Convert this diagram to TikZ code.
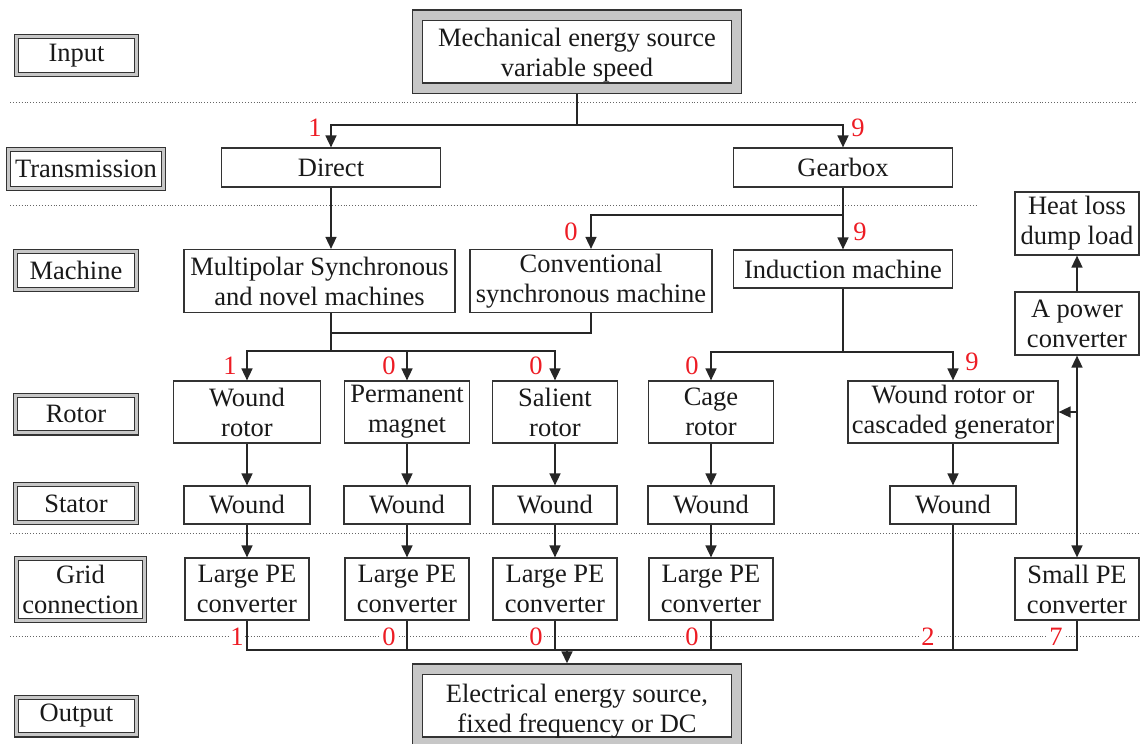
\documentclass[tikz,border=0pt]{standalone}
\usepackage{fontspec}
\setmainfont{Liberation Serif}
\usetikzlibrary{arrows.meta,positioning}
\definecolor{myRed}{RGB}{237,28,36}
\tikzset{
myBox/.style={
	rectangle,draw=black!80,fill=white,line width=1.2pt,
	inner sep=0pt,align=center,text=black!90,
	font=\fontsize{26.5}{30}\selectfont
}
, myFrame/.style={
	myBox, double=black!22, double distance=3pt, outer sep=2.7pt
}
, mySource/.style={
	myBox, double=black!22, double distance=9pt, outer sep=5.7pt
}
% counts
, myCount/.style={text=myRed, inner sep=1pt, font=\fontsize{26.5}{30}\selectfont}
, myCountBg/.style={myCount, fill=white}
% links
, myLink/.style={draw=black!85, line width=1.6pt}
, myArrow/.style={myLink, -{Triangle[length=12pt,width=11pt]}}
, myBoth/.style={myLink, {Triangle[length=12pt,width=11pt]}-{Triangle[length=12pt,width=11pt]}}
, myLevel/.style={draw=black!60, dotted, line width=0.9pt}
}

\begin{document}
\begin{tikzpicture}[x=1pt,y=-1pt]
	\useasboundingbox (0,0) rectangle (1141,744);
	% levels
	\draw[myLevel] (10,102) -- (1138,102);
	\draw[myLevel] (10,205) -- (978,205);
	\draw[myLevel] (10,533) -- (1141,533);
	\draw[myLevel] (10,636) -- (1141,636);
	% tags
	\node[myFrame, minimum width=119.6pt, minimum height=37.6pt] (TagInput) at (76.5,55.5) {Input};
	\node[myFrame, minimum width=154.6pt, minimum height=38.6pt] (TagTrans) at (86,169) {Transmission};
	\node[myFrame, minimum width=120.6pt, minimum height=37.6pt] (TagMachine) at (76,270.5) {Machine};
	\node[myFrame, minimum width=120.6pt, minimum height=37.6pt] (TagRotor) at (76,414) {Rotor};
	\node[myFrame, minimum width=120.6pt, minimum height=37.6pt] (TagStator) at (76,503.5) {Stator};
	\node[myFrame, minimum width=127.6pt, minimum height=61.6pt] (TagGrid) at (80.5,589.5) {Grid\\connection};
	\node[myFrame, minimum width=119.6pt, minimum height=37.6pt] (TagOutput) at (76.5,716) {Output};
	% source and sink
	\node[mySource, minimum width=319.5pt, minimum height=73pt] (Mech) at (577,51.5) {\rule{0pt}{26pt}Mechanical energy source\\variable speed};
	\node[mySource, minimum width=319.5pt, minimum height=73pt] (Elec) at (577,705.5) {\rule{0pt}{30pt}Electrical energy source,\\fixed frequency or DC};
	% transmission
	\node[myBox, minimum width=219pt, minimum height=39pt] (Direct) at (331,167.5) {Direct};
	\node[myBox, minimum width=219pt, minimum height=39pt] (Gearbox) at (843,167.5) {Gearbox};
	% machine
	\node[myBox, minimum width=271pt, minimum height=63pt] (Multi) at (319.5,281) {Multipolar Synchronous\\and novel machines};
	\node[myBox, minimum width=242pt, minimum height=63pt] (Conv) at (591,281) {Conventional\\synchronous machine};
	\node[myBox, minimum width=219pt, minimum height=38pt] (Induction) at (843,269) {Induction machine};
	\node[myBox, minimum width=124pt, minimum height=63pt] (Heat) at (1077,223.5) {Heat loss\\dump load};
	\node[myBox, minimum width=124pt, minimum height=63pt] (APow) at (1077,323.5) {A power\\converter};
	% rotor
	\node[myBox, minimum width=147pt, minimum height=62pt] (RotA) at (247,412) {Wound\\rotor};
	\node[myBox, minimum width=125pt, minimum height=62pt] (RotB) at (407,412) {Permanent\\magnet};
	\node[myBox, minimum width=125pt, minimum height=62pt] (RotC) at (555,412) {Salient\\rotor};
	\node[myBox, minimum width=125pt, minimum height=62pt] (RotD) at (711,412) {Cage\\rotor};
	\node[myBox, minimum width=210pt, minimum height=62pt] (RotE) at (953,412) {Wound rotor or\\cascaded generator};
	% stator
	\node[myBox, minimum width=126pt, minimum height=38pt] (StaA) at (247,505) {Wound};
	\node[myBox, minimum width=126pt, minimum height=38pt] (StaB) at (407,505) {Wound};
	\node[myBox, minimum width=124pt, minimum height=38pt] (StaC) at (555,505) {Wound};
	\node[myBox, minimum width=126pt, minimum height=38pt] (StaD) at (711,505) {Wound};
	\node[myBox, minimum width=126pt, minimum height=38pt] (StaE) at (953,505) {Wound};
	% grid connection
	\node[myBox, minimum width=124pt, minimum height=62pt] (PeA) at (247,589) {Large PE\\converter};
	\node[myBox, minimum width=124pt, minimum height=62pt] (PeB) at (407,589) {Large PE\\converter};
	\node[myBox, minimum width=124pt, minimum height=62pt] (PeC) at (555,589) {Large PE\\converter};
	\node[myBox, minimum width=124pt, minimum height=62pt] (PeD) at (711,589) {Large PE\\converter};
	\node[myBox, minimum width=124pt, minimum height=62pt] (PeSmall) at (1077,589) {Small PE\\converter};

	% counts
	\node[myCount] (CntDirect) at (315,128) {1};
	\node[myCount] (CntGear) at (858,128) {9};
	\node[myCount] (CntConv) at (571,232) {0};
	\node[myCount] (CntInd) at (860,232) {9};
	\node[myCount] (CntRotA) at (230,366) {1};
	\node[myCount] (CntRotB) at (389,366) {0};
	\node[myCount] (CntRotC) at (536,366) {0};
	\node[myCount] (CntRotD) at (692,366) {0};
	\node[myCount] (CntRotE) at (972,362) {9};
	\node[myCountBg] (CntPeA) at (237,637) {1};
	\node[myCountBg] (CntPeB) at (389,637) {0};
	\node[myCountBg] (CntPeC) at (536,637) {0};
	\node[myCountBg] (CntPeD) at (692,637) {0};
	\node[myCountBg] (CntStaE) at (928,637) {2};
	\node[myCountBg] (CntPeSmall) at (1056,637) {7};

	% links
	\coordinate (InSplit) at (577,125);
	\draw[myLink] (Mech.south) -- (InSplit);
	\draw[myArrow] (InSplit) -| (Direct.north);
	\draw[myArrow] (InSplit) -| (Gearbox.north);

	\draw[myArrow] (Direct.south) -- (Direct.south |- Multi.north);
	\coordinate (GbSplit) at (843,215);
	\draw[myArrow] (Gearbox.south) -- (Induction.north);
	\draw[myArrow] (GbSplit) -| (Conv.north);

	\coordinate (MuJoin) at (331,333);
	\coordinate (MuSplit) at (331,351);
	\draw[myLink] (Multi.south -| MuSplit) -- (MuSplit);
	\draw[myLink] (Conv.south) |- (MuJoin);
	\draw[myArrow] (MuSplit) -| (RotA.north);
	\draw[myArrow] (MuSplit) -| (RotB.north);
	\draw[myArrow] (MuSplit) -| (RotC.north);

	\coordinate (ImSplit) at (843,352);
	\draw[myLink] (Induction.south) -- (ImSplit);
	\draw[myArrow] (ImSplit) -| (RotD.north);
	\draw[myArrow] (ImSplit) -| (RotE.north);

	\draw[myArrow] (RotA) -- (StaA);
	\draw[myArrow] (RotB) -- (StaB);
	\draw[myArrow] (RotC) -- (StaC);
	\draw[myArrow] (RotD) -- (StaD);
	\draw[myArrow] (RotE) -- (StaE);

	\draw[myArrow] (StaA) -- (PeA);
	\draw[myArrow] (StaB) -- (PeB);
	\draw[myArrow] (StaC) -- (PeC);
	\draw[myArrow] (StaD) -- (PeD);

	\coordinate (BusIn) at (567,650);
	\draw[myLink] (PeA.south) |- (BusIn);
	\draw[myLink] (PeB.south) |- (BusIn);
	\draw[myLink] (PeC.south) |- (BusIn);
	\draw[myLink] (PeD.south) |- (BusIn);
	\draw[myLink] (StaE.south) |- (BusIn);
	\draw[myLink] (PeSmall.south) |- (BusIn);
	\draw[myArrow] (BusIn) -- (BusIn |- Elec.north);

	\draw[myBoth] (APow.south) -- (PeSmall.north);
	\draw[myArrow] (APow.south |- RotE.east) -- (RotE.east);
	\draw[myArrow] (APow.north) -- (Heat.south);
\end{tikzpicture}
\end{document}
